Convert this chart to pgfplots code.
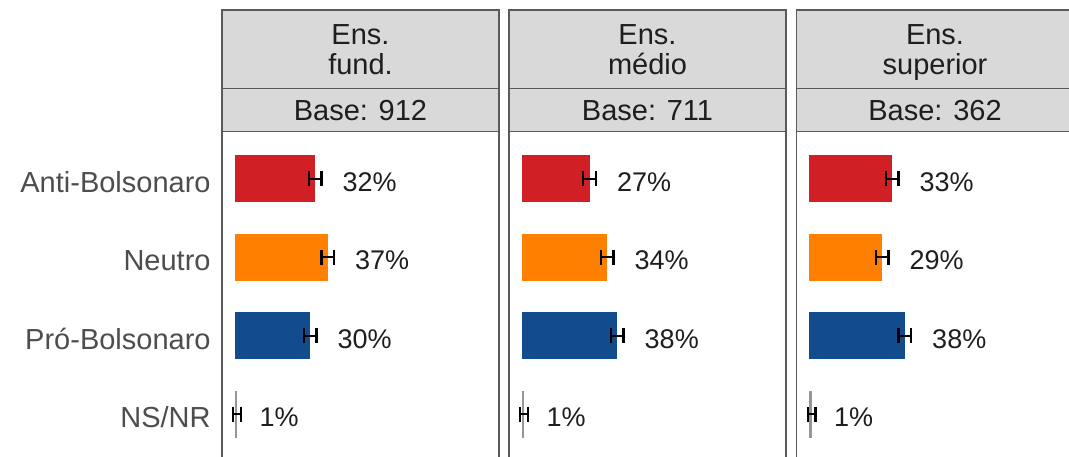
\documentclass[border=0pt]{standalone}
\usepackage{pgfplots}
\pgfplotsset{compat=1.18}
\usepackage{fontspec}
\setmainfont{Liberation Sans}
\definecolor{cRed}{RGB}{208,32,38}
\definecolor{cOrange}{RGB}{255,128,0}
\definecolor{cBlue}{RGB}{18,76,140}
\definecolor{cGray}{RGB}{150,150,150}
\definecolor{stripgray}{RGB}{217,217,217}
\definecolor{bordergray}{RGB}{90,90,90}
\definecolor{ticklab}{RGB}{77,77,77}
\definecolor{txt}{RGB}{30,30,30}
\pgfplotsset{
  panel/.style={
    scale only axis, width=138.5pt, height=164.85pt,
    anchor=north west,
    xmin=-5, xmax=105, ymin=0.4, ymax=4.6, y dir=reverse,
    xtick=\empty, ytick=\empty,
    axis line style={draw=bordergray, line width=0.7pt},
    clip=false,
    every axis plot/.append style={line width=1pt},
  },
  barstyle/.style={xbar, bar shift=0pt, bar width=0.6, draw=none, fill=#1,
    error bars/.cd, x dir=both, x explicit,
    error bar style={black, line width=1.1pt},
    error mark options={black, line width=1.1pt, mark size=3.8pt, rotate=90}},
  labstyle/.style={draw=none, mark=none, nodes near coords, point meta=explicit symbolic,
    nodes near coords style={anchor=west, inner sep=0pt, yshift=-1.5pt, font=\fontsize{13.5}{16}\selectfont, text=txt}},
}
\newcommand{\strips}[3]{%
  \draw[fill=stripgray, draw=bordergray, line width=0.7pt] (rel axis cs:0,1) rectangle ([yshift=21.7pt]rel axis cs:1,1);
  \draw[fill=stripgray, draw=bordergray, line width=0.7pt] ([yshift=21.7pt]rel axis cs:0,1) rectangle ([yshift=60.85pt]rel axis cs:1,1);
  \node[font=\fontsize{14.5}{15}\selectfont, text=txt, inner sep=0pt, anchor=base] at ([yshift=5.6pt]rel axis cs:0.5,1) {#3};
  \node[font=\fontsize{14.5}{15}\selectfont, text=txt, inner sep=0pt, anchor=base] at ([yshift=28.4pt]rel axis cs:0.5,1) {#2};
  \node[font=\fontsize{14.5}{15}\selectfont, text=txt, inner sep=0pt, anchor=base] at ([yshift=43.4pt]rel axis cs:0.5,1) {#1};
}
\begin{document}
\begin{tikzpicture}
\path[use as bounding box] (0,0) rectangle (534.5pt,228pt);
% Panel 1
\begin{axis}[panel, at={(111pt,162.15pt)},
  ytick={1,2,3,4}, yticklabels={Anti-Bolsonaro,Neutro,Pró-Bolsonaro,NS/NR},
  major tick length=0pt,
  yticklabel style={font=\fontsize{14.5}{16}\selectfont, text=ticklab, inner sep=0pt, xshift=-5.5pt, yshift=-1.5pt}]
\addplot[barstyle=cRed] coordinates {(32,1) +- (2.5,0)};
\addplot[barstyle=cOrange] coordinates {(37,2) +- (2.5,0)};
\addplot[barstyle=cBlue] coordinates {(30,3) +- (2.5,0)};
\addplot[barstyle=cGray] coordinates {(1,4) +- (1.5,0)};
\addplot[labstyle] coordinates {(42.5,1) [32\%] (47.5,2) [37\%] (40.5,3) [30\%] (9.5,4) [1\%]};
\strips{Ens.}{fund.}{Base: 912}
\end{axis}
% Panel 2
\begin{axis}[panel, at={(254.5pt,162.15pt)}]
\addplot[barstyle=cRed] coordinates {(27,1) +- (2.5,0)};
\addplot[barstyle=cOrange] coordinates {(34,2) +- (2.5,0)};
\addplot[barstyle=cBlue] coordinates {(38,3) +- (2.5,0)};
\addplot[barstyle=cGray] coordinates {(1,4) +- (1.5,0)};
\addplot[labstyle] coordinates {(37.5,1) [27\%] (44.5,2) [34\%] (48.5,3) [38\%] (9.5,4) [1\%]};
\strips{Ens.}{médio}{Base: 711}
\end{axis}
% Panel 3
\begin{axis}[panel, at={(398.25pt,162.15pt)}]
\addplot[barstyle=cRed] coordinates {(33,1) +- (2.5,0)};
\addplot[barstyle=cOrange] coordinates {(29,2) +- (2.5,0)};
\addplot[barstyle=cBlue] coordinates {(38,3) +- (2.5,0)};
\addplot[barstyle=cGray] coordinates {(1,4) +- (1.5,0)};
\addplot[labstyle] coordinates {(43.5,1) [33\%] (39.5,2) [29\%] (48.5,3) [38\%] (9.5,4) [1\%]};
\strips{Ens.}{superior}{Base: 362}
\end{axis}
\end{tikzpicture}
\end{document}
